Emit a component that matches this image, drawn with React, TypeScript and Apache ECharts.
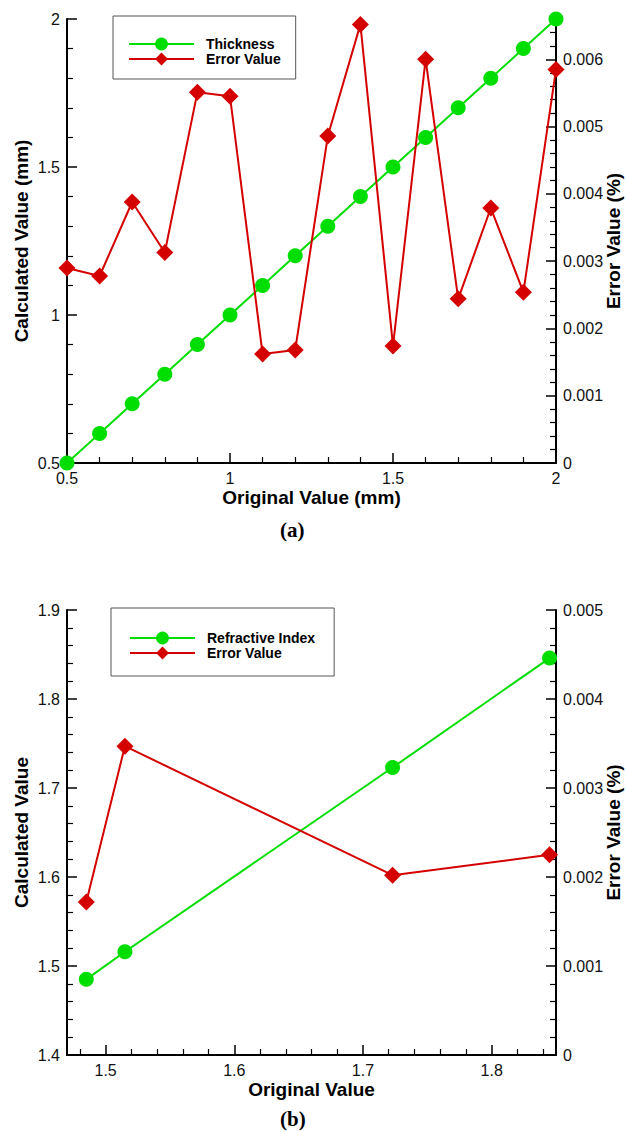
import React, { useEffect, useRef } from "react";
import * as echarts from "echarts";

// ---- Data (a) ----
const thicknessOriginal = [0.5, 0.6, 0.7, 0.8, 0.9, 1.0, 1.1, 1.2, 1.3, 1.4, 1.5, 1.6, 1.7, 1.8, 1.9, 2.0];
const thicknessCalculated = [0.5, 0.6, 0.7, 0.8, 0.9, 1.0, 1.1, 1.2, 1.3, 1.4, 1.5, 1.6, 1.7, 1.8, 1.9, 2.0];
const thicknessError = [0.0029, 0.00278, 0.00388, 0.00313, 0.00551, 0.00545, 0.00162, 0.00168, 0.00486, 0.00652, 0.00174, 0.006, 0.00244, 0.00379, 0.00254, 0.00585];

// ---- Data (b) ----
const refractiveOriginal = [1.485, 1.515, 1.723, 1.845];
const refractiveCalculated = [1.485, 1.516, 1.723, 1.846];
const refractiveError = [0.00172, 0.00347, 0.00202, 0.00225];

// ---- Tick values ----
const aXMajor = [0.5, 1, 1.5, 2];
const aXMinor = [0.6, 0.7, 0.8, 0.9, 1.1, 1.2, 1.3, 1.4, 1.6, 1.7, 1.8, 1.9];
const aYMajor = [0.5, 1, 1.5, 2];
const aYMinor = [0.6, 0.7, 0.8, 0.9, 1.1, 1.2, 1.3, 1.4, 1.6, 1.7, 1.8, 1.9];
const aRMajor = [0, 0.001, 0.002, 0.003, 0.004, 0.005, 0.006];
const aRMinor = [0.0002, 0.0004, 0.0006, 0.0008, 0.0012, 0.0014, 0.0016, 0.0018, 0.0022, 0.0024, 0.0026, 0.0028, 0.0032, 0.0034, 0.0036, 0.0038, 0.0042, 0.0044, 0.0046, 0.0048, 0.0052, 0.0054, 0.0056, 0.0058, 0.0062, 0.0064];

const bXMajor = [1.5, 1.6, 1.7, 1.8];
const bXMinor = [1.48, 1.52, 1.54, 1.56, 1.58, 1.62, 1.64, 1.66, 1.68, 1.72, 1.74, 1.76, 1.78, 1.82, 1.84];
const bYMajor = [1.4, 1.5, 1.6, 1.7, 1.8, 1.9];
const bYMinor = [1.42, 1.44, 1.46, 1.48, 1.52, 1.54, 1.56, 1.58, 1.62, 1.64, 1.66, 1.68, 1.72, 1.74, 1.76, 1.78, 1.82, 1.84, 1.86, 1.88];
const bRMajor = [0, 0.001, 0.002, 0.003, 0.004, 0.005];
const bRMinor = [0.0002, 0.0004, 0.0006, 0.0008, 0.0012, 0.0014, 0.0016, 0.0018, 0.0022, 0.0024, 0.0026, 0.0028, 0.0032, 0.0034, 0.0036, 0.0038, 0.0042, 0.0044, 0.0046, 0.0048];

const FONT = "'Liberation Sans', Arial, sans-serif";
const GREEN = "#00dd00";
const RED = "#d40000";

const fmt = (v: number) => String(+(+v).toFixed(4));

function majorAxis(gridIndex: number, min: number, max: number, values: number[], opts: any) {
  return {
    type: "value",
    gridIndex,
    min,
    max,
    nameMoveOverlap: false,
    axisLine: { show: true, onZero: false, lineStyle: { color: "#000", width: 2 } },
    axisTick: { show: true, inside: true, length: 10, customValues: values, lineStyle: { color: "#000", width: 1.5 } },
    axisLabel: { show: true, customValues: values, formatter: fmt, color: "#111", fontSize: 16, fontFamily: FONT, margin: 7 },
    splitLine: { show: false },
    nameTextStyle: { fontFamily: FONT, fontWeight: "bold", fontSize: 19, color: "#000" },
    ...opts,
  };
}

function minorAxis(gridIndex: number, min: number, max: number, values: number[], opts: any) {
  return {
    type: "value",
    gridIndex,
    min,
    max,
    axisLine: { show: false, onZero: false },
    axisTick: { show: true, inside: true, length: 6, customValues: values, lineStyle: { color: "#000", width: 1.2 } },
    axisLabel: { show: false, customValues: values },
    splitLine: { show: false },
    ...opts,
  };
}

export default function App() {
  const ref = useRef<HTMLDivElement>(null);
  useEffect(() => {
    if (!ref.current) return;
    const chart = echarts.init(ref.current, undefined, { renderer: "svg" });
    const legendBase = {
      orient: "vertical",
      itemWidth: 65,
      itemHeight: 16,
      itemGap: 1,
      borderColor: "#555",
      borderWidth: 1,
      borderRadius: 0,
      textStyle: { fontFamily: FONT, fontWeight: "bold", fontSize: 14, color: "#000", padding: [0, 0, 0, 7] },
    };
    chart.setOption({
      animation: false,
      backgroundColor: "#fff",
      grid: [
        { left: 67, width: 489, top: 19, height: 444, outerBoundsMode: "none", containLabel: false },
        { left: 67, width: 489, top: 610, height: 445, outerBoundsMode: "none", containLabel: false },
      ],
      xAxis: [
        majorAxis(0, 0.5, 2, aXMajor, { position: "bottom", name: "Original Value (mm)", nameLocation: "middle", nameGap: 25 }),
        minorAxis(0, 0.5, 2, aXMinor, { position: "bottom" }),
        majorAxis(1, 1.47, 1.85, bXMajor, { position: "bottom", name: "Original Value", nameLocation: "middle", nameGap: 25 }),
        minorAxis(1, 1.47, 1.85, bXMinor, { position: "bottom" }),
      ],
      yAxis: [
        majorAxis(0, 0.5, 2, aYMajor, { position: "left", name: "Calculated Value (mm)", nameLocation: "middle", nameGap: 36, nameRotate: 90 }),
        minorAxis(0, 0.5, 2, aYMinor, { position: "left" }),
        majorAxis(0, 0, 0.0066, aRMajor, { position: "right", name: "Error Value (%)", nameLocation: "middle", nameGap: 48, nameRotate: 90 }),
        minorAxis(0, 0, 0.0066, aRMinor, { position: "right" }),
        majorAxis(1, 1.4, 1.9, bYMajor, { position: "left", name: "Calculated Value", nameLocation: "middle", nameGap: 36, nameRotate: 90 }),
        minorAxis(1, 1.4, 1.9, bYMinor, { position: "left" }),
        majorAxis(1, 0, 0.005, bRMajor, { position: "right", name: "Error Value (%)", nameLocation: "middle", nameGap: 48, nameRotate: 90 }),
        minorAxis(1, 0, 0.005, bRMinor, { position: "right" }),
      ],
      legend: [
        { ...legendBase, left: 113, top: 16, padding: [21, 15, 13, 15], data: ["Thickness", "Error Value"] },
        { ...legendBase, left: 111, top: 608, padding: [23, 19, 16, 18], data: ["Refractive Index", "Error Value"] },
      ],
      series: [
        {
          name: "Thickness",
          type: "line",
          xAxisIndex: 0,
          yAxisIndex: 0,
          data: thicknessOriginal.map((x, i) => [x, thicknessCalculated[i]]),
          symbol: "circle",
          symbolSize: 15,
          itemStyle: { color: GREEN },
          lineStyle: { color: GREEN, width: 2 },
        },
        {
          name: "Error Value",
          type: "line",
          xAxisIndex: 0,
          yAxisIndex: 2,
          data: thicknessOriginal.map((x, i) => [x, thicknessError[i]]),
          symbol: "diamond",
          symbolSize: 17,
          itemStyle: { color: RED },
          lineStyle: { color: RED, width: 2 },
        },
        {
          name: "Refractive Index",
          type: "line",
          xAxisIndex: 2,
          yAxisIndex: 4,
          data: refractiveOriginal.map((x, i) => [x, refractiveCalculated[i]]),
          symbol: "circle",
          symbolSize: 15,
          itemStyle: { color: GREEN },
          lineStyle: { color: GREEN, width: 2 },
        },
        {
          name: "Error Value",
          type: "line",
          xAxisIndex: 2,
          yAxisIndex: 6,
          data: refractiveOriginal.map((x, i) => [x, refractiveError[i]]),
          symbol: "diamond",
          symbolSize: 17,
          itemStyle: { color: RED },
          lineStyle: { color: RED, width: 2 },
        },
      ],
      graphic: [
        {
          type: "text",
          left: 280,
          top: 519,
          style: { text: "(a)", font: "bold 21px 'Liberation Serif', 'Times New Roman', serif", fill: "#000" },
        },
        {
          type: "text",
          left: 280,
          top: 1108,
          style: { text: "(b)", font: "bold 21px 'Liberation Serif', 'Times New Roman', serif", fill: "#000" },
        },
      ],
    });
    return () => chart.dispose();
  }, []);
  return <div ref={ref} style={{ position: "absolute", left: 0, top: 0, width: 627, height: 1131 }} />;
}
